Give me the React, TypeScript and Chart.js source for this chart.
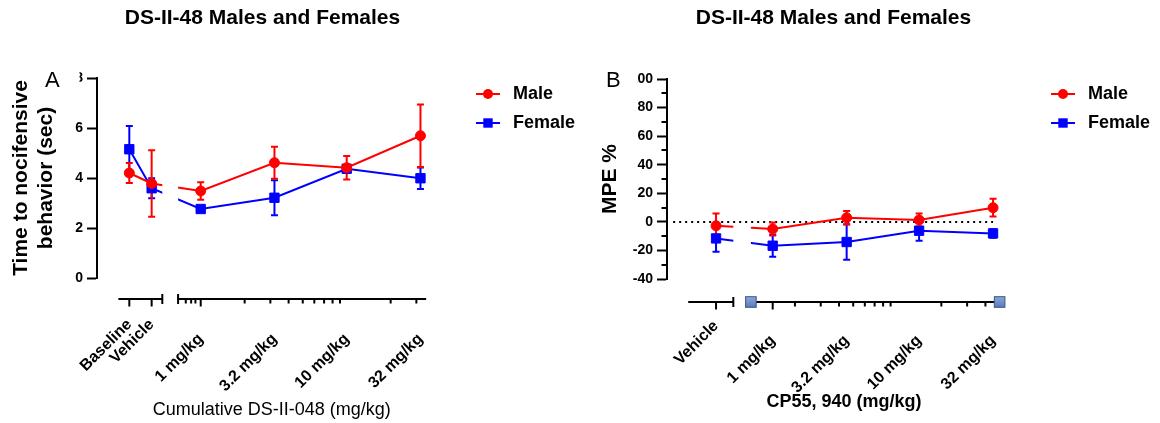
import React, { useEffect, useRef } from 'react';
import { Chart, registerables } from 'chart.js';

Chart.register(...registerables);

const FONT = "'Liberation Sans', Arial, Helvetica, sans-serif";
Chart.defaults.font.family = FONT;
Chart.defaults.color = '#000';

// ---------------- data ----------------
const TITLE = 'DS-II-48 Males and Females';
const SERIES_NAMES = ['Male', 'Female'];
const MALE_COLOR = '#ff0000';
const FEMALE_COLOR = '#0000ff';

const DOSES = [1, 3.2, 10, 32];
const DOSE_LABELS = ['1 mg/kg', '3.2 mg/kg', '10 mg/kg', '32 mg/kg'];

// Panel A: time to nocifensive behavior (sec); order = Baseline, Vehicle, 1, 3.2, 10, 32
const A_GROUPS = ['Baseline', 'Vehicle'];
const A_MALE = [4.2, 3.78, 3.48, 4.61, 4.41, 5.69];
const A_MALE_SEM = [0.4, 1.33, 0.35, 0.64, 0.47, 1.25];
const A_FEMALE = [5.15, 3.59, 2.76, 3.21, 4.37, 3.99];
const A_FEMALE_SEM = [0.93, 0.4, 0.1, 0.7, 0.15, 0.43];

// Panel B: MPE %; order = Vehicle, 1, 3.2, 10, 32
const B_GROUPS = ['Vehicle'];
const B_MALE = [-2.7, -5.0, 2.9, 1.3, 9.9];
const B_MALE_SEM = [8.6, 4.6, 4.7, 4.5, 6.2];
const B_FEMALE = [-11.6, -16.7, -14.1, -6.2, -8.1];
const B_FEMALE_SEM = [9.3, 7.7, 12.5, 7.0, 3.0];

// minor log-axis tick values (mg/kg, axis units)
const A_MINOR_TICKS = [0.79, 0.86, 0.92, 2, 3, 4, 5, 6, 7, 8, 9, 20, 30];
const B_MINOR_TICKS = [2, 3, 4, 5, 6, 7, 8, 9, 20, 30, 40];

// ---------------- axis layout (x in log10 units) ----------------
const L10 = (v: number) => Math.log10(v);
const B_SHIFT = -0.149; // panel B's log axis is drawn shifted relative to the plotted doses

const PANEL_A = {
  letter: 'A',
  groups: A_GROUPS,
  groupPos: [-0.489, -0.336],
  male: A_MALE, maleSem: A_MALE_SEM, female: A_FEMALE, femaleSem: A_FEMALE_SEM,
  yMin: 0, yMax: 8, yStep: 2, yMinor: 0,
  yTitle: ['Time to nocifensive', 'behavior (sec)'],
  yTitlePadTop: 8.4,
  yAxisWidth: 97,
  xTitle: 'Cumulative DS-II-048 (mg/kg)', xTitleBold: false, xTitlePos: [271.7, 410],
  xMin: -0.7103, xMax: 1.5568,
  padRight: 152,
  titleTop: 5.4, titleBottom: 47.4,
  xAxisHeight: 145,
  labelPad: 37.2,
  axisY: 299,
  seg1: [-0.564, -0.263],
  seg2: [L10(0.7), L10(35)],
  minor: A_MINOR_TICKS.map(L10),
  endSquares: false,
  zeroLine: null as null | number[],
  legend: { symX: 488, textX: 513, ys: [94, 123] },
  letterX: 45,
  mask: [66, 66, 13.5, 24],
};

const PANEL_B = {
  letter: 'B',
  groups: B_GROUPS,
  groupPos: [-0.387],
  male: B_MALE, maleSem: B_MALE_SEM, female: B_FEMALE, femaleSem: B_FEMALE_SEM,
  yMin: -40, yMax: 100, yStep: 20, yMinor: 10,
  yTitle: 'MPE %',
  yTitlePadTop: 17.4,
  yAxisWidth: 87,
  xTitle: 'CP55, 940 (mg/kg)', xTitleBold: true, xTitlePos: [264, 402.5],
  xMin: -0.722, xMax: 1.5526,
  padRight: 160,
  titleTop: 5.4, titleBottom: 48.4,
  xAxisHeight: 144,
  labelPad: 37.7,
  axisY: 302,
  seg1: [-0.577, -0.269],
  seg2: [L10(1) + B_SHIFT, L10(50) + B_SHIFT],
  minor: B_MINOR_TICKS.map((v) => L10(v) + B_SHIFT),
  endSquares: true,
  zeroLine: [-0.68, 1.505],
  legend: { symX: 483, textX: 508, ys: [94, 123] },
  letterX: 26,
  mask: [42, 66, 15, 50],
};

type Panel = typeof PANEL_A;

function makePlugin(p: Panel) {
  return {
    id: 'prismDecor' + p.letter,
    beforeDatasetsDraw(chart: any) {
      const ctx = chart.ctx;
      const xs = chart.scales.x;
      const ys = chart.scales.y;
      const a = chart.chartArea;
      ctx.save();
      if (p.zeroLine) {
        const y0 = Math.round(ys.getPixelForValue(0));
        ctx.strokeStyle = '#000';
        ctx.lineWidth = 2;
        ctx.setLineDash([2, 4]);
        ctx.beginPath();
        ctx.moveTo(xs.getPixelForValue(p.zeroLine[0]), y0);
        ctx.lineTo(xs.getPixelForValue(p.zeroLine[1]), y0);
        ctx.stroke();
        ctx.setLineDash([]);
      }
      // error bars (female first, male on top)
      const sets = [
        { idx: 1, vals: p.female, sem: p.femaleSem },
        { idx: 0, vals: p.male, sem: p.maleSem },
      ];
      for (const s of sets) {
        const meta = chart.getDatasetMeta(s.idx);
        const color = chart.data.datasets[s.idx].borderColor;
        ctx.strokeStyle = color;
        ctx.lineWidth = 2;
        meta.data.forEach((pt: any, i: number) => {
          const x = pt.x;
          const yt = ys.getPixelForValue(s.vals[i] + s.sem[i]);
          const yb = ys.getPixelForValue(s.vals[i] - s.sem[i]);
          ctx.beginPath();
          ctx.moveTo(x, yt);
          ctx.lineTo(x, yb);
          ctx.moveTo(x - 3.5, yt);
          ctx.lineTo(x + 3.5, yt);
          ctx.moveTo(x - 3.5, yb);
          ctx.lineTo(x + 3.5, yb);
          ctx.stroke();
        });
      }
      ctx.restore();
      // clip the axis-break gap out of the connecting lines
      ctx.save();
      const g0 = xs.getPixelForValue(p.seg1[1]);
      const g1 = xs.getPixelForValue(p.seg2[0]);
      ctx.beginPath();
      ctx.rect(0, 0, chart.width, chart.height);
      ctx.rect(g0, a.top - 20, g1 - g0, a.bottom - a.top + 40);
      ctx.clip('evenodd');
    },
    afterDatasetsDraw(chart: any) {
      chart.ctx.restore();
    },
    afterDraw(chart: any) {
      const ctx = chart.ctx;
      const xs = chart.scales.x;
      const ys = chart.scales.y;
      const a = chart.chartArea;
      const px = (u: number) => xs.getPixelForValue(u);
      const Y = p.axisY;
      ctx.save();
      ctx.strokeStyle = '#000';
      ctx.lineWidth = 2;
      const line = (x1: number, y1: number, x2: number, y2: number) => {
        ctx.beginPath();
        ctx.moveTo(x1, y1);
        ctx.lineTo(x2, y2);
        ctx.stroke();
      };
      // broken x axis: segment 1 (control groups)
      line(px(p.seg1[0]), Y, px(p.seg1[1]), Y);
      line(px(p.seg1[1]), Y - 5, px(p.seg1[1]), Y + 5);
      p.groupPos.forEach((u) => line(px(u), Y, px(u), Y + 7.5));
      // segment 2 (log dose axis)
      line(px(p.seg2[0]), Y, px(p.seg2[1]), Y);
      if (!p.endSquares) line(px(p.seg2[0]), Y - 5, px(p.seg2[0]), Y + 5);
      p.minor.forEach((u) => line(px(u), Y, px(u), Y + 4.5));
      line(px(L10(DOSES[0])), Y, px(L10(DOSES[0])), Y + 7.5);
      if (p.endSquares) {
        [p.seg2[0], p.seg2[1]].forEach((u) => {
          const cx = px(u);
          const grd = ctx.createLinearGradient(cx, Y - 5, cx, Y + 5);
          grd.addColorStop(0, '#8aa6d8');
          grd.addColorStop(1, '#5a7cbc');
          ctx.fillStyle = grd;
          ctx.fillRect(cx - 5.3, Y - 5.3, 10.6, 10.6);
          ctx.lineWidth = 1;
          ctx.strokeStyle = '#3b5686';
          ctx.strokeRect(cx - 5.3, Y - 5.3, 10.6, 10.6);
          ctx.lineWidth = 2;
          ctx.strokeStyle = '#000';
        });
      }
      // minor y ticks
      if (p.yMinor) {
        for (let v = p.yMin; v <= p.yMax; v += p.yMinor) {
          if (Math.abs(v % p.yStep) < 1e-9) continue;
          const y = Math.round(ys.getPixelForValue(v));
          line(a.left - 5.5, y, a.left, y);
        }
      }
      // mask (top tick labels are cut off in the original figure)
      ctx.fillStyle = '#fff';
      ctx.fillRect(p.mask[0], p.mask[1], p.mask[2], p.mask[3]);
      // x axis title
      ctx.fillStyle = '#000';
      ctx.font = `${p.xTitleBold ? 'bold ' : ''}18px ${FONT}`;
      ctx.textAlign = 'center';
      ctx.textBaseline = 'middle';
      ctx.fillText(p.xTitle, p.xTitlePos[0], p.xTitlePos[1]);
      // panel letter
      ctx.font = `22px ${FONT}`;
      ctx.textAlign = 'left';
      ctx.textBaseline = 'alphabetic';
      ctx.fillText(p.letter, p.letterX, 86.5);
      // legend
      const L = p.legend;
      chart.data.datasets.forEach((ds: any, i: number) => {
        const y = L.ys[i];
        ctx.strokeStyle = ds.borderColor;
        ctx.lineWidth = 2;
        line(L.symX - 12, y, L.symX + 12, y);
        ctx.fillStyle = ds.borderColor;
        if (ds.pointStyle === 'circle') {
          ctx.beginPath();
          ctx.arc(L.symX, y, 5, 0, Math.PI * 2);
          ctx.fill();
        } else {
          ctx.fillRect(L.symX - 4.7, y - 4.7, 9.4, 9.4);
        }
        ctx.fillStyle = '#000';
        ctx.font = `bold 18px ${FONT}`;
        ctx.textBaseline = 'middle';
        ctx.fillText(ds.label, L.textX, y);
      });
      ctx.restore();
    },
  };
}

function buildConfig(p: Panel): any {
  const nCtrl = p.groups.length;
  const toPoints = (vals: number[]) =>
    vals.map((v, i) => ({
      x: i < nCtrl ? p.groupPos[i] : L10(DOSES[i - nCtrl]),
      y: v,
    }));
  const tickValues = [...p.groupPos, ...DOSES.map(L10)];
  const tickLabels = [...p.groups, ...DOSE_LABELS];
  return {
    type: 'line',
    data: {
      datasets: [
        {
          label: SERIES_NAMES[0],
          data: toPoints(p.male),
          borderColor: MALE_COLOR,
          backgroundColor: MALE_COLOR,
          pointStyle: 'circle',
          pointRadius: 5,
          pointBorderWidth: 1,
          borderWidth: 2,
          tension: 0,
        },
        {
          label: SERIES_NAMES[1],
          data: toPoints(p.female),
          borderColor: FEMALE_COLOR,
          backgroundColor: FEMALE_COLOR,
          pointStyle: 'rect',
          pointRadius: 6.6,
          pointBorderWidth: 1,
          borderWidth: 2,
          tension: 0,
        },
      ],
    },
    options: {
      responsive: false,
      animation: false,
      devicePixelRatio: 1,
      events: [],
      layout: { padding: { left: 0, top: 0, bottom: 0, right: p.padRight } },
      plugins: {
        legend: { display: false },
        tooltip: { enabled: false },
        title: {
          display: true,
          text: TITLE,
          fullSize: false,
          color: '#000',
          font: { size: 21, weight: 'bold' },
          padding: { top: p.titleTop, bottom: p.titleBottom },
        },
      },
      scales: {
        x: {
          type: 'linear',
          position: 'bottom',
          min: p.xMin,
          max: p.xMax,
          grid: { display: false, drawTicks: false },
          border: { display: false },
          afterFit: (s: any) => {
            s.height = p.xAxisHeight;
          },
          afterBuildTicks: (s: any) => {
            s.ticks = tickValues.map((v) => ({ value: v }));
          },
          ticks: {
            autoSkip: false,
            minRotation: 45,
            maxRotation: 45,
            padding: p.labelPad,
            color: '#000',
            // control-group labels sit higher than the dose labels (separate axis segments)
            font: (c: any) => ({ size: 16, weight: 'bold', lineHeight: c.index < nCtrl ? 1.2 : 3.78 }),
            callback: (_v: any, i: number) => tickLabels[i],
          },
          title: { display: false },
        },
        y: {
          type: 'linear',
          position: 'left',
          min: p.yMin,
          max: p.yMax,
          afterFit: (s: any) => {
            s.width = p.yAxisWidth;
          },
          ticks: {
            stepSize: p.yStep,
            padding: 4,
            color: '#000',
            font: { size: 14, weight: 'bold' },
          },
          grid: {
            display: true,
            drawOnChartArea: false,
            drawTicks: true,
            tickLength: 10,
            tickWidth: 2,
            tickColor: '#000',
            color: '#000',
          },
          border: { display: true, color: '#000', width: 2 },
          title: {
            display: true,
            text: p.yTitle,
            color: '#000',
            font: { size: 21, weight: 'bold', lineHeight: 1.2 },
            padding: { top: p.yTitlePadTop, bottom: 0 },
          },
        },
      },
    },
    plugins: [makePlugin(p)],
  };
}

function PanelChart({ panel }: { panel: Panel }) {
  const ref = useRef<HTMLCanvasElement>(null);
  useEffect(() => {
    const chart = new Chart(ref.current as HTMLCanvasElement, buildConfig(panel));
    return () => chart.destroy();
  }, [panel]);
  return (
    <div style={{ width: 580, height: 423, position: 'relative' }}>
      <canvas ref={ref} width={580} height={423} style={{ display: 'block', width: 580, height: 423 }} />
    </div>
  );
}

export default function App() {
  return (
    <div
      style={{
        position: 'absolute',
        left: 0,
        top: 0,
        width: 1160,
        height: 423,
        display: 'flex',
        background: '#fff',
      }}
    >
      <PanelChart panel={PANEL_A} />
      <PanelChart panel={PANEL_B as unknown as Panel} />
    </div>
  );
}
